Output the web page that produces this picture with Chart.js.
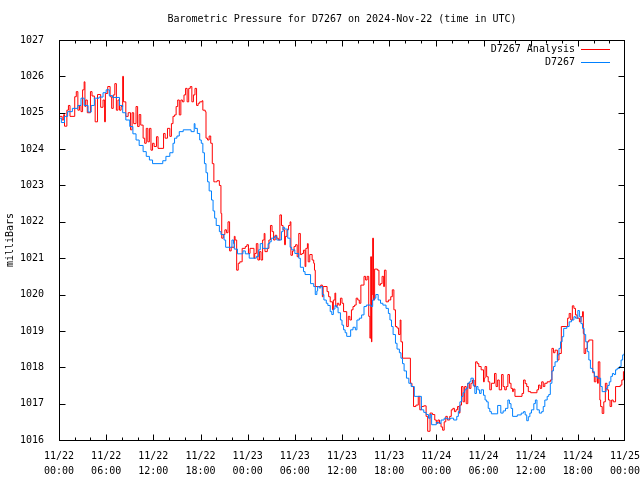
<!DOCTYPE html>
<html>
<head>
<meta charset="utf-8">
<script src="https://cdn.jsdelivr.net/npm/chart.js@4"></script>
<style>
  html, body { margin: 0; padding: 0; background: #fff; }
  #wrap { width: 640px; height: 480px; }
</style>
</head>
<body>
<div id="wrap"><canvas id="baro"></canvas></div>
<script>
// Pression D7267, heures depuis 2024-11-22 00:00 UTC
const analysisHours = [
    0, 0.4, 0.6, 0.7, 1.0, 1.2, 1.4, 2.0, 2.2, 2.4,
    2.6, 2.8, 3.0, 3.2, 3.3, 3.4, 3.6, 4.0, 4.2, 4.5,
    4.6, 4.9, 5.3, 5.6, 5.8, 5.9, 6.2, 6.5, 6.7, 6.9,
    7.1, 7.3, 7.5, 7.7, 7.9, 8.1, 8.2, 8.5, 8.8, 9.1,
    9.3, 9.5, 9.8, 10.0, 10.2, 10.4, 10.7, 10.9, 11.1, 11.3,
    11.5, 11.7, 11.9, 12.1, 12.4, 12.6, 13.3, 13.5, 13.8, 14.1,
    14.3, 14.5, 14.7, 14.9, 15.1, 15.3, 15.5, 15.7, 15.9, 16.1,
    16.3, 16.5, 16.7, 16.9, 17.1, 17.3, 17.5, 17.7, 17.9, 18.2,
    18.3, 18.6, 18.7, 18.9, 19.1, 19.3, 19.5, 19.7, 19.9, 20.1,
    20.4, 20.6, 20.7, 20.9, 21.1, 21.3, 21.5, 21.7, 21.9, 22.3,
    22.4, 22.6, 22.8, 23.0, 23.3, 23.7, 23.9, 24.1, 24.3, 24.8,
    24.9, 25.1, 25.3, 25.5, 25.7, 25.9, 26.1, 26.2, 26.5, 26.7,
    26.9, 27.1, 27.3, 27.5, 27.7, 27.9, 28.1, 28.3, 28.5, 28.7,
    28.8, 29.0, 29.2, 29.4, 29.5, 29.7, 29.9, 30.1, 30.3, 30.5,
    30.7, 30.9, 31.1, 31.3, 31.4, 31.6, 31.7, 31.9, 32.2, 32.4,
    32.5, 32.6, 33.3, 33.5, 33.6, 34.1, 34.3, 34.5, 34.8, 34.9,
    35.1, 35.2, 35.4, 35.6, 35.8, 36.0, 36.2, 36.6, 36.8, 37.0,
    37.2, 37.4, 37.6, 37.8, 38.0, 38.2, 38.4, 38.8, 39.0, 39.2,
    39.4, 39.55, 39.65, 39.75, 39.8, 39.9, 40.0, 40.15, 40.5, 40.7,
    40.9, 41.1, 41.3, 41.4, 41.6, 41.9, 42.2, 42.4, 42.6, 42.8,
    43.0, 43.2, 43.4, 43.5, 43.7, 44.7, 44.9, 45.1, 45.4, 45.7,
    45.9, 46.1, 46.4, 46.7, 46.9, 47.2, 47.5, 47.8, 48.0, 48.2,
    48.4, 48.6, 48.8, 49.0, 49.2, 49.4, 49.7, 49.9, 50.1, 50.3,
    50.5, 50.7, 50.9, 51.0, 51.2, 51.4, 51.6, 51.8, 52.0, 52.2,
    52.4, 52.6, 52.8, 53.0, 53.2, 53.4, 53.7, 54.0, 54.1, 54.2,
    54.4, 54.6, 54.8, 55.0, 55.4, 55.6, 55.8, 56.0, 56.3, 56.5,
    56.7, 56.9, 57.1, 57.3, 57.5, 57.7, 57.8, 58.0, 58.9, 59.1,
    59.3, 59.5, 59.7, 60.0, 60.8, 61.0, 61.2, 61.4, 61.6, 61.8,
    62.1, 62.5, 62.7, 62.9, 63.1, 63.4, 63.6, 63.9, 64.7, 64.9,
    65.1, 65.3, 65.5, 65.7, 65.9, 66.2, 66.4, 66.6, 66.7, 66.8,
    67.0, 67.2, 67.4, 67.9, 68.1, 68.3, 68.5, 68.6, 68.8, 68.9,
    69.1, 69.3, 69.5, 69.7, 69.9, 70.1, 70.3, 70.5, 70.8, 71.4,
    71.6, 71.8, 72.0
];
const analysisMb = [
    1024.9, 1024.8, 1024.95, 1024.63, 1025.07, 1025.2, 1024.9, 1025.44, 1025.58, 1025.07,
    1025.2, 1025.03, 1025.63, 1025.85, 1025.17, 1025.35, 1025.0, 1025.58, 1025.46, 1025.37,
    1024.75, 1025.5, 1025.15, 1025.35, 1024.75, 1025.53, 1025.72, 1025.44, 1025.12, 1025.49,
    1025.8, 1025.07, 1025.35, 1025.07, 1025.17, 1026.0, 1025.3, 1024.9, 1025.0, 1024.53,
    1025.0, 1024.7, 1025.17, 1024.62, 1024.95, 1024.66, 1024.3, 1024.16, 1024.57, 1024.2,
    1024.57, 1023.97, 1024.16, 1024.07, 1024.34, 1024.02, 1024.43, 1024.3, 1024.57, 1024.35,
    1024.7, 1024.9, 1024.94, 1025.17, 1025.35, 1024.94, 1025.35, 1025.3, 1025.49, 1025.67,
    1025.3, 1025.67, 1025.72, 1025.3, 1025.49, 1025.67, 1025.2, 1025.26, 1025.3, 1025.33,
    1025.07, 1025.03, 1024.3, 1024.25, 1024.36, 1024.16, 1023.6, 1023.1, 1023.1, 1023.13,
    1023.0, 1022.23, 1021.55, 1021.65, 1021.78, 1021.7, 1022.0, 1021.2, 1021.3, 1021.6,
    1021.5, 1020.67, 1020.86, 1020.9, 1021.27, 1021.32, 1021.37, 1021.13, 1021.27, 1021.0,
    1021.13, 1021.4, 1020.95, 1021.18, 1020.95, 1021.5, 1021.68, 1021.18, 1021.27, 1021.5,
    1021.9, 1021.73, 1021.5, 1021.63, 1021.55, 1021.5, 1022.19, 1021.9, 1021.78, 1021.37,
    1021.6, 1021.78, 1021.9, 1022.0, 1021.08, 1021.2, 1021.32, 1021.37, 1021.04, 1021.68,
    1021.1, 1021.13, 1021.22, 1020.77, 1021.27, 1021.4, 1020.9, 1021.1, 1020.95, 1020.86,
    1020.67, 1020.22, 1020.26, 1019.94, 1020.22, 1020.08, 1019.94, 1019.8, 1019.58, 1019.85,
    1020.04, 1019.67, 1019.76, 1019.71, 1019.9, 1019.76, 1019.53, 1019.12, 1019.4, 1019.3,
    1019.58, 1019.67, 1019.71, 1019.9, 1019.85, 1019.76, 1020.26, 1020.5, 1020.4, 1020.5,
    1019.4, 1018.8, 1021.04, 1018.7, 1020.0, 1021.55, 1019.85, 1020.7, 1020.67, 1020.26,
    1020.3, 1020.5, 1020.22, 1020.67, 1019.8, 1019.85, 1019.94, 1020.13, 1019.58, 1019.12,
    1019.08, 1018.9, 1019.3, 1018.7, 1018.25, 1017.56, 1017.47, 1016.92, 1016.96, 1017.2,
    1016.83, 1016.92, 1016.94, 1016.65, 1016.24, 1016.74, 1016.7, 1016.55, 1016.46, 1016.55,
    1016.46, 1016.36, 1016.27, 1016.5, 1016.65, 1016.55, 1016.65, 1016.83, 1016.87, 1016.78,
    1016.83, 1016.92, 1016.74, 1016.96, 1017.47, 1017.05, 1017.47, 1017.0, 1017.56, 1017.42,
    1017.56, 1017.65, 1017.47, 1018.15, 1018.1, 1018.02, 1017.93, 1017.6, 1017.7, 1018.02,
    1017.74, 1017.6, 1017.38, 1017.56, 1017.83, 1017.47, 1017.65, 1017.38, 1017.8, 1017.47,
    1017.38, 1017.47, 1017.8, 1017.56, 1017.42, 1017.33, 1017.4, 1017.2, 1017.28, 1017.65,
    1017.55, 1017.47, 1017.33, 1017.3, 1017.38, 1017.51, 1017.42, 1017.6, 1017.47, 1017.56,
    1017.6, 1017.65, 1018.52, 1018.4, 1018.47, 1018.2, 1018.38, 1019.12, 1019.35, 1019.48,
    1019.3, 1019.69, 1019.62, 1019.44, 1019.35, 1019.25, 1019.39, 1019.53, 1018.93, 1018.38,
    1018.52, 1018.7, 1018.75, 1017.85, 1017.6, 1017.74, 1017.56, 1018.15, 1017.1, 1016.92,
    1016.73, 1017.05, 1017.56, 1017.38, 1017.1, 1016.92, 1017.1, 1017.05, 1017.47, 1017.51,
    1017.65, 1017.88, 1018.05
];

const stationHours = [
    0, 0.3, 0.7, 1.1, 1.7, 2.4, 2.8, 3.2, 3.7, 4.1,
    4.5, 5.1, 5.6, 6.0, 6.4, 6.8, 7.7, 8.1, 8.5, 9.0,
    9.4, 9.8, 10.2, 10.7, 11.1, 11.5, 11.9, 13.2, 13.6, 14.1,
    14.5, 14.7, 15.0, 15.3, 15.8, 16.8, 17.2, 17.3, 17.6, 17.9,
    18.1, 18.3, 18.5, 18.7, 18.9, 19.1, 19.4, 19.6, 19.8, 20.0,
    20.4, 20.6, 21.0, 21.2, 22.0, 22.2, 22.3, 22.7, 23.4, 23.7,
    24.2, 25.1, 25.4, 25.6, 25.9, 26.6, 26.8, 27.0, 27.4, 27.7,
    28.3, 28.5, 28.7, 29.1, 29.4, 29.6, 30.0, 30.5, 30.7, 31.1,
    31.3, 32.0, 32.4, 32.6, 32.8, 32.9, 33.1, 33.3, 33.5, 33.7,
    34.0, 34.2, 34.5, 34.7, 34.9, 35.1, 35.3, 35.5, 35.8, 36.0,
    36.2, 36.4, 36.6, 37.1, 37.4, 37.7, 37.9, 38.2, 38.5, 38.8,
    39.1, 39.7, 39.9, 40.1, 40.3, 40.6, 40.9, 41.2, 41.6, 41.9,
    42.1, 42.3, 42.5, 42.8, 43.0, 43.3, 43.5, 43.7, 43.9, 44.2,
    44.5, 44.8, 45.2, 46.1, 46.4, 46.7, 47.0, 47.2, 47.4, 48.0,
    48.3, 48.6, 49.0, 49.4, 49.8, 50.2, 50.6, 50.8, 51.0, 51.2,
    51.4, 51.6, 51.8, 52.0, 52.2, 52.4, 52.7, 52.9, 53.1, 53.3,
    53.5, 53.7, 54.0, 54.2, 54.4, 54.6, 54.8, 55.0, 55.8, 56.2,
    56.5, 56.8, 57.1, 57.3, 57.5, 57.7, 58.3, 58.8, 59.1, 59.3,
    59.5, 59.7, 59.9, 60.1, 60.4, 60.6, 60.8, 61.1, 61.4, 61.6,
    61.8, 62.1, 62.3, 62.5, 62.7, 62.9, 63.1, 63.4, 63.6, 63.8,
    64.0, 64.2, 64.6, 64.9, 65.2, 65.5, 65.7, 66.0, 66.2, 66.4,
    66.6, 66.8, 67.0, 67.2, 67.4, 67.6, 67.9, 68.1, 68.5, 68.9,
    69.1, 69.6, 69.8, 70.0, 70.2, 70.4, 70.6, 70.8, 71.0, 71.3,
    71.5, 71.7, 71.9, 72.0
];
const stationMb = [
    1024.85, 1024.73, 1024.9, 1025.03, 1025.12, 1025.2, 1025.4, 1025.2, 1025.02, 1025.2,
    1025.4, 1025.43, 1025.55, 1025.63, 1025.47, 1025.42, 1025.2, 1025.0, 1024.8, 1024.62,
    1024.42, 1024.25, 1024.1, 1023.93, 1023.8, 1023.7, 1023.6, 1023.68, 1023.8, 1023.9,
    1024.16, 1024.3, 1024.36, 1024.48, 1024.53, 1024.48, 1024.7, 1024.57, 1024.43, 1024.25,
    1024.16, 1023.9, 1023.6, 1023.35, 1023.1, 1022.85, 1022.6, 1022.3, 1022.1, 1021.9,
    1021.73, 1021.65, 1021.5, 1021.3, 1021.5, 1021.4, 1021.25, 1021.12, 1021.2, 1021.12,
    1021.0, 1021.05, 1021.23, 1021.4, 1021.27, 1021.4, 1021.45, 1021.55, 1021.6, 1021.5,
    1021.73, 1021.85, 1021.8, 1021.55, 1021.3, 1021.23, 1021.13, 1021.0, 1020.75, 1020.63,
    1020.55, 1020.3, 1020.22, 1020.0, 1020.1, 1020.22, 1020.18, 1020.22, 1020.0, 1019.85,
    1019.76, 1019.7, 1019.53, 1019.45, 1019.6, 1019.7, 1019.65, 1019.5, 1019.3, 1019.16,
    1019.03, 1018.95, 1018.85, 1019.03, 1019.1, 1019.03, 1019.3, 1019.35, 1019.44, 1019.67,
    1019.71, 1019.67, 1019.85, 1019.9, 1020.0, 1019.85, 1019.76, 1019.71, 1019.62, 1019.48,
    1019.3, 1019.12, 1018.9, 1018.66, 1018.5, 1018.4, 1018.25, 1018.1, 1017.9, 1017.7,
    1017.56, 1017.47, 1017.2, 1016.83, 1016.76, 1016.7, 1016.6, 1016.7, 1016.42, 1016.48,
    1016.46, 1016.55, 1016.6, 1016.58, 1016.6, 1016.55, 1016.65, 1016.78, 1017.05, 1017.2,
    1017.3, 1017.38, 1017.42, 1017.56, 1017.6, 1017.7, 1017.5, 1017.28, 1017.47, 1017.38,
    1017.28, 1017.38, 1017.23, 1017.1, 1017.05, 1016.87, 1016.78, 1016.72, 1016.95, 1016.74,
    1016.8, 1016.87, 1017.1, 1017.0, 1016.87, 1016.65, 1016.69, 1016.74, 1016.78, 1016.69,
    1016.53, 1016.64, 1016.74, 1016.83, 1017.0, 1017.1, 1016.83, 1016.74, 1016.78, 1016.92,
    1017.1, 1017.2, 1017.25, 1017.56, 1017.9, 1018.02, 1018.15, 1018.34, 1018.52, 1018.7,
    1018.84, 1019.07, 1019.12, 1019.25, 1019.3, 1019.39, 1019.35, 1019.56, 1019.39, 1019.2,
    1019.07, 1018.9, 1018.7, 1018.43, 1018.2, 1017.97, 1017.88, 1017.75, 1017.7, 1017.47,
    1017.33, 1017.42, 1017.5, 1017.6, 1017.75, 1017.83, 1017.8, 1017.93, 1017.97, 1018.02,
    1018.2, 1018.34, 1018.38, 1018.4
];

// Etiquettes de l'axe des temps (toutes les 6 h)
const tickDays = ['11/22', '11/22', '11/22', '11/22', '11/23', '11/23', '11/23', '11/23',
                  '11/24', '11/24', '11/24', '11/24', '11/25'];
const tickTimes = ['00:00', '06:00', '12:00', '18:00', '00:00', '06:00', '12:00', '18:00',
                   '00:00', '06:00', '12:00', '18:00', '00:00'];

const titleText = 'Barometric Pressure for D7267 on 2024-Nov-22 (time in UTC)';
const MONO = '"DejaVu Sans Mono", "Liberation Mono", monospace';

const toPoints = (hours, values) => hours.map((h, i) => ({ x: h, y: values[i] }));

// Cadre, graduations internes, titre et legende a la gnuplot
const gnuplotFrame = {
    id: 'gnuplotFrame',
    afterDatasetsDraw(chart) {
        const { ctx, chartArea: a, scales: { x, y } } = chart;
        ctx.save();
        ctx.strokeStyle = '#000';
        ctx.lineWidth = 1;

        const L = a.left + 0.5, R = a.right - 0.5, T = a.top + 0.5, B = a.bottom + 0.5;
        ctx.strokeRect(L, T, R - L, B - T);

        ctx.beginPath();
        y.ticks.forEach(t => {
            const py = Math.round(y.getPixelForValue(t.value)) + 0.5;
            ctx.moveTo(L, py); ctx.lineTo(L + 6, py);
            ctx.moveTo(R, py); ctx.lineTo(R - 6, py);
        });
        for (let h = 0; h <= 72; h += 2) {
            const px = Math.min(R, Math.round(x.getPixelForValue(h)) + 0.5);
            const len = h % 6 === 0 ? 6 : 3;
            ctx.moveTo(px, B); ctx.lineTo(px, B - len);
            ctx.moveTo(px, T); ctx.lineTo(px, T + len);
        }
        ctx.stroke();

        ctx.fillStyle = '#000';
        ctx.font = '10px ' + MONO;
        ctx.textAlign = 'center';
        ctx.textBaseline = 'middle';
        ctx.fillText(titleText, (a.left + a.right) / 2, 19);

        ctx.textAlign = 'right';
        chart.data.datasets.forEach((ds, i) => {
            const ly = a.top + 9 + i * 13;
            ctx.fillText(ds.label, a.right - 50, ly);
            ctx.strokeStyle = ds.borderColor;
            ctx.beginPath();
            ctx.moveTo(a.right - 44, Math.round(ly) + 0.5);
            ctx.lineTo(a.right - 15, Math.round(ly) + 0.5);
            ctx.stroke();
        });
        ctx.restore();
    }
};

new Chart(document.getElementById('baro'), {
    type: 'line',
    data: {
        datasets: [
            {
                label: 'D7267 Analysis',
                data: toPoints(analysisHours, analysisMb),
                borderColor: '#ff0000',
                borderWidth: 1,
                stepped: true,
                pointRadius: 0,
                order: 2
            },
            {
                label: 'D7267',
                data: toPoints(stationHours, stationMb),
                borderColor: '#0080ff',
                borderWidth: 1,
                stepped: true,
                pointRadius: 0,
                order: 1
            }
        ]
    },
    options: {
        responsive: true,
        maintainAspectRatio: false,
        animation: false,
        layout: { padding: { top: 40, right: 15, left: 0, bottom: 0 } },
        plugins: {
            legend: { display: false },
            title: { display: false },
            tooltip: { enabled: false }
        },
        scales: {
            x: {
                type: 'linear',
                min: 0,
                max: 72,
                grid: { display: false },
                border: { display: false },
                afterFit: (scale) => {
                    scale.height = 40;
                    scale.paddingLeft = 0;
                    scale.paddingRight = 0;
                },
                ticks: {
                    stepSize: 6,
                    autoSkip: false,
                    maxRotation: 0,
                    padding: 1,
                    color: '#000',
                    font: { family: MONO, size: 10, lineHeight: 1.5 },
                    callback: (value) => {
                        const i = Math.round(value / 6);
                        return [tickDays[i], tickTimes[i]];
                    }
                }
            },
            y: {
                min: 1016,
                max: 1027,
                grid: { display: false },
                border: { display: false },
                afterFit: (scale) => {
                    scale.width = 59;
                    scale.paddingTop = 0;
                    scale.paddingBottom = 0;
                },
                title: {
                    display: true,
                    text: 'milliBars',
                    color: '#000',
                    font: { family: MONO, size: 10 },
                    padding: { top: 4, bottom: 2 }
                },
                ticks: {
                    stepSize: 1,
                    padding: 7,
                    color: '#000',
                    font: { family: MONO, size: 10 },
                    callback: (value) => String(value)
                }
            }
        }
    },
    plugins: [gnuplotFrame]
});
</script>
</body>
</html>
